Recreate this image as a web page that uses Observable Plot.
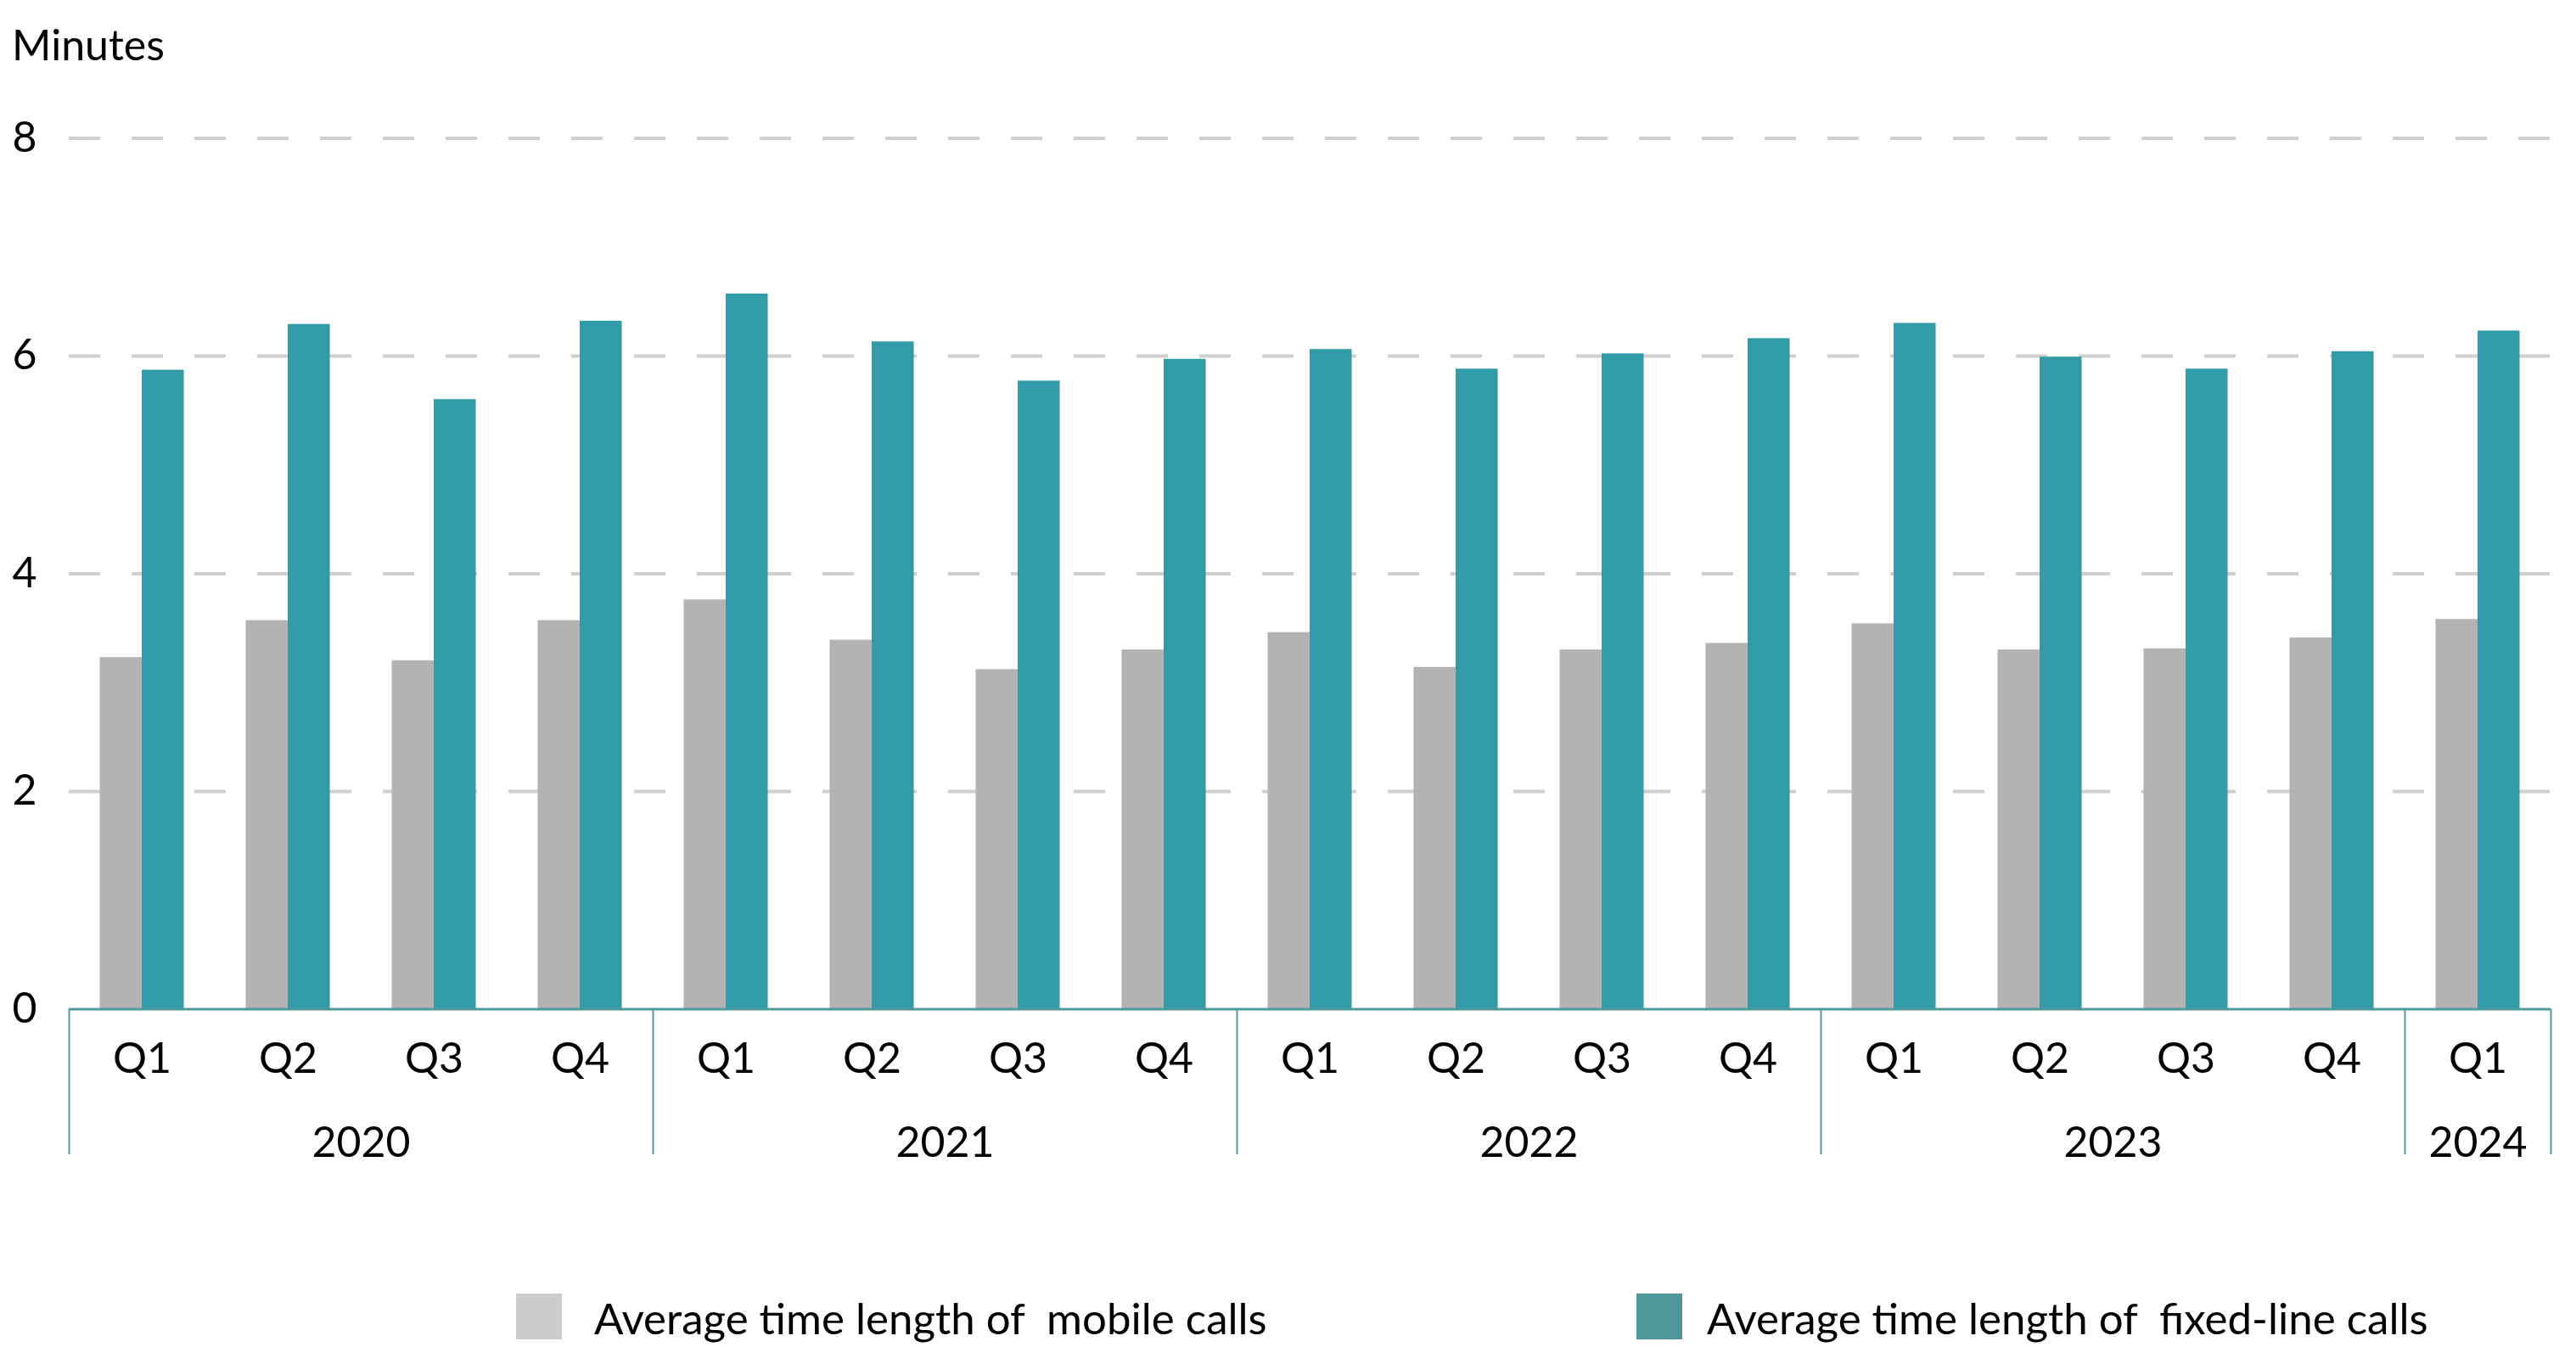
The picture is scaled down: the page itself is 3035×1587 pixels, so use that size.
<!DOCTYPE html>
<html><head><meta charset="utf-8">
<script src="https://cdn.jsdelivr.net/npm/d3@7"></script>
<script src="https://cdn.jsdelivr.net/npm/@observablehq/plot@0.6"></script>
<style>body{margin:0;background:#fff;} #chart svg, #legend svg{display:block}</style>
</head><body><div id="chart"></div><div id="legend"></div>
<script>
// ---- data ----
const quarters = ["Q1","Q2","Q3","Q4","Q1","Q2","Q3","Q4","Q1","Q2","Q3","Q4","Q1","Q2","Q3","Q4","Q1"];
const years    = ["2020","2020","2020","2020","2021","2021","2021","2021","2022","2022","2022","2022","2023","2023","2023","2023","2024"];
const mobile   = [3.23, 3.57, 3.20, 3.57, 3.76, 3.39, 3.12, 3.30, 3.46, 3.14, 3.30, 3.36, 3.54, 3.30, 3.31, 3.41, 3.58];
const fixed    = [5.87, 6.29, 5.60, 6.32, 6.57, 6.13, 5.77, 5.97, 6.06, 5.88, 6.02, 6.16, 6.30, 5.99, 5.88, 6.04, 6.23];
const yTicks   = [0, 2, 4, 6, 8];
const seriesLabels = ["Average time length of  mobile calls", "Average time length of  fixed-line calls"];
const yLabel = "Minutes";

// ---- derived tables ----
const rows = quarters.map((q, i) => ({i, quarter: q, year: years[i], mobile: mobile[i], fixed: fixed[i]}));
const yearGroups = d3.groups(rows, d => d.year).map(([year, rs]) => ({
  year, center: d3.mean(rs, d => d.i), last: d3.max(rs, d => d.i)
}));
const bounds = [-0.5, ...yearGroups.map(g => g.last + 0.5)];

const bw = 0.288;           // half group width in band units
const axisColor = "#4f9a9c";
const font = "Lato, 'Open Sans', sans-serif";

const plot = Plot.plot({
  width: 3035, height: 1510,
  marginTop: 162.4, marginBottom: 321.5, marginLeft: 81, marginRight: 30,
  style: {fontFamily: font, fontSize: "50px", color: "#000", background: "#fff"},
  x: {type: "linear", domain: [-0.5, rows.length - 0.5], axis: null},
  y: {domain: [0, 8], axis: null},
  marks: [
    Plot.ruleY(yTicks.filter(t => t > 0), {stroke: "#cfcfcf", strokeWidth: 4, strokeDasharray: "37,37"}),
    Plot.rect(rows, {x1: d => d.i - bw, x2: d => d.i, y1: 0, y2: "mobile", fill: "#b3b3b3"}),
    Plot.rect(rows, {x1: d => d.i, x2: d => d.i + bw, y1: 0, y2: "fixed", fill: "#329ba8"}),
    Plot.ruleY([0], {stroke: axisColor, strokeWidth: 3}),
    Plot.ruleX(bounds, {x: d => d, y1: 0, y2: 0, insetBottom: -171.5, stroke: axisColor, strokeWidth: 2}),
    Plot.axisY({ticks: yTicks, tickSize: 0, tickPadding: 38, fontSize: 50, label: null, fill: "#000"}),
    Plot.text(rows, {x: "i", text: "quarter", frameAnchor: "bottom", lineAnchor: "bottom", dy: 74.5, fontSize: 50, fill: "#000"}),
    Plot.text(yearGroups, {x: "center", text: "year", frameAnchor: "bottom", lineAnchor: "bottom", dy: 173.5, fontSize: 50, fill: "#000"}),
    Plot.text([yLabel], {frameAnchor: "top-left", textAnchor: "start", lineAnchor: "bottom", dx: -67.4, dy: -91.4, fontSize: 50, fill: "#000"})
  ]
});
document.getElementById("chart").append(plot);

// ---- legend (below the chart) ----
const legendColors = ["#cccccc", "#4f979b"];
const swatchX = [608, 1928];
const textX = [700, 2011];
const lg = d3.select("#legend").append("svg").attr("width", 3035).attr("height", 77);
seriesLabels.forEach((label, k) => {
  lg.append("rect").attr("x", swatchX[k]).attr("y", 14).attr("width", 54).attr("height", 54).attr("fill", legendColors[k]);
  lg.append("text").attr("x", textX[k]).attr("y", 62)
    .attr("font-family", font).attr("font-size", 51).attr("fill", "#000")
    .style("white-space", "pre").text(label);
});
</script>
</body></html>
